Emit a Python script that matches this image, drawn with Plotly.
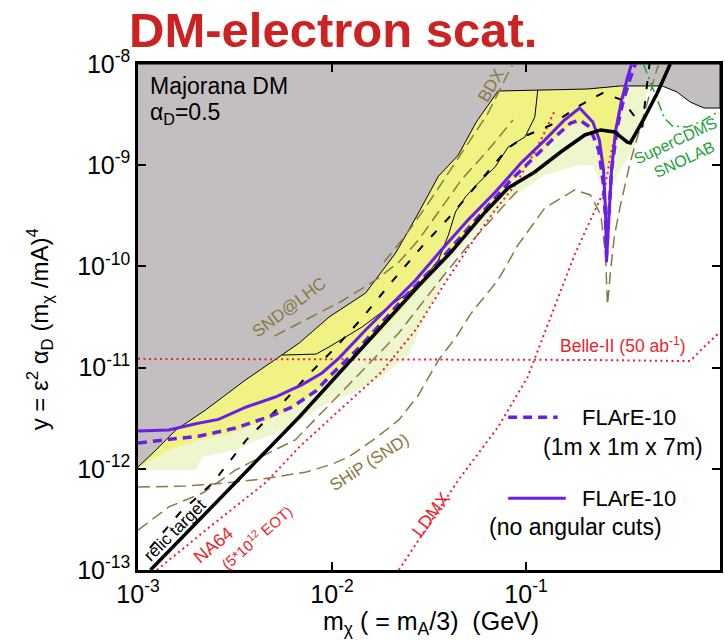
import plotly.graph_objects as go

# ---- axis setup -------------------------------------------------------------
X_RANGE = (1e-3, 1.0)
Y_RANGE = (1e-13, 1e-8)
X_TICKS = [1e-3, 1e-2, 1e-1, 1.0]
X_TICKTEXT = ["10<sup>-3</sup>", "10<sup>-2</sup>", "10<sup>-1</sup>", "1"]
Y_TICKS = [1e-13, 1e-12, 1e-11, 1e-10, 1e-9, 1e-8]
Y_TICKTEXT = ["10<sup>-13</sup>", "10<sup>-12</sup>", "10<sup>-11</sup>",
              "10<sup>-10</sup>", "10<sup>-9</sup>", "10<sup>-8</sup>"]

# ---- excluded region (grey), lower boundary -----------------------------------
EXCL_X = [1.0e-3, 1.236e-3, 1.567e-3, 2.23e-3, 3.58e-3, 5.10e-3, 6.78e-3, 9.66e-3,
          1.49e-2, 2.13e-2, 2.79e-2, 3.54e-2, 4.48e-2, 5.54e-2, 7.18e-2, 0.208,
          0.307, 0.504, 0.601, 0.702, 0.828, 1.0]
EXCL_Y = [1.04e-12, 1.53e-12, 2.42e-12, 3.81e-12, 7.54e-12, 1.19e-11, 1.75e-11, 3.16e-11,
          5.46e-11, 1.36e-10, 3.37e-10, 7.8e-10, 1.26e-9, 2.67e-9, 5.41e-9, 5.66e-9,
          6.07e-9, 6.07e-9, 5.28e-9, 4.21e-9, 3.67e-9, 3.67e-9]

# ---- yellow bands (lower edges) ---------------------------------------------
BAND_X = [1.0e-3, 1.442e-3, 2.08e-3, 3.184e-3, 4.70e-3, 6.24e-3, 8.28e-3, 1.125e-2,
          1.375e-2, 1.80e-2, 2.48e-2, 3.54e-2, 5.05e-2, 8.37e-2, 0.111, 0.141, 0.170,
          0.196, 0.221, 0.243, 0.257, 0.273, 0.290, 0.307, 0.318]
BAND_Y = [1.02e-12, 1.53e-12, 1.93e-12, 2.31e-12, 3.04e-12, 3.90e-12, 5.74e-12, 9.68e-12,
          1.43e-11, 2.25e-11, 4.45e-11, 9.86e-11, 2.29e-10, 6.83e-10, 1.15e-9, 1.82e-9,
          2.49e-9, 2.55e-9, 2.13e-9, 1.41e-9, 8.97e-10, 1.13e-9, 1.99e-9, 3.51e-9, 5.79e-9]

PALE_X = [1.0e-3, 1.983e-3, 2.155e-3, 3.184e-3, 3.58e-3, 5.10e-3, 6.24e-3, 1.0e-2,
          1.22e-2, 1.80e-2, 2.48e-2, 2.96e-2, 3.54e-2, 4.12e-2, 6.17e-2, 8.37e-2, 0.125,
          0.185, 0.221, 0.243, 0.260, 0.273, 0.297, 0.354, 0.398, 0.422]
PALE_Y = [9.73e-13, 9.73e-13, 1.31e-12, 1.53e-12, 1.72e-12, 2.26e-12, 2.71e-12, 4.78e-12,
          5.36e-12, 8.07e-12, 1.33e-11, 2.95e-11, 5.84e-11, 1.21e-10, 2.75e-10, 4.74e-10,
          8.00e-10, 1.00e-9, 1.00e-9, 6.37e-10, 2.29e-10, 5.08e-10, 8.0e-10, 1.41e-9,
          2.80e-9, 5.79e-9]

# thin black contour inside the yellow band
EDGE_X = [5.54e-3, 8.28e-3, 9.66e-3, 1.43e-2, 1.96e-2, 2.79e-2, 3.54e-2, 3.98e-2,
          4.33e-2, 4.87e-2, 5.68e-2, 6.93e-2, 8.09e-2, 9.88e-2, 0.111, 0.115]
EDGE_Y = [1.33e-11, 1.36e-11, 1.60e-11, 2.52e-11, 3.97e-11, 6.55e-11, 1.16e-10, 2.04e-10,
          3.45e-10, 4.85e-10, 6.67e-10, 9.60e-10, 1.51e-9, 1.90e-9, 2.99e-9, 5.53e-9]

# ---- relic target -------------------------------------------------------------
RELIC_X = [1.16e-3, 5.81e-3, 6.78e-3, 1.0e-2, 1.49e-2, 2.03e-2, 2.79e-2, 4.12e-2,
           6.17e-2, 8.09e-2, 0.111, 0.151, 0.201, 0.243, 0.286, 0.333, 0.345, 0.407,
           0.475, 0.554]
RELIC_Y = [1.0e-13, 2.42e-12, 3.25e-12, 7.38e-12, 1.71e-11, 3.31e-11, 6.40e-11, 1.39e-10,
           3.45e-10, 5.96e-10, 8.57e-10, 1.35e-9, 1.99e-9, 2.23e-9, 2.13e-9, 1.69e-9,
           1.66e-9, 2.92e-9, 5.16e-9, 1.0e-8]

# ---- FLArE-10 sensitivities ------------------------------------------------------
FLARE_NOCUT_X = [1.0e-3, 1.442e-3, 2.01e-3, 2.60e-3, 3.62e-3, 5.10e-3, 7.02e-3, 8.89e-3,
                 1.086e-2, 1.49e-2, 2.03e-2, 2.70e-2, 3.66e-2, 5.05e-2, 6.93e-2, 9.42e-2,
                 0.125, 0.158, 0.189, 0.221, 0.239, 0.251, 0.257, 0.260, 0.267, 0.276,
                 0.290, 0.311, 0.333, 0.350]
FLARE_NOCUT_Y = [2.37e-12, 2.42e-12, 2.80e-12, 3.08e-12, 4.08e-12, 5.12e-12, 6.80e-12,
                 8.85e-12, 1.24e-11, 2.35e-11, 4.25e-11, 7.34e-11, 1.45e-10, 2.90e-10,
                 5.40e-10, 1.05e-9, 1.77e-9, 2.80e-9, 3.67e-9, 2.67e-9, 1.77e-9, 8.97e-10,
                 3.60e-10, 1.10e-10, 2.87e-10, 8.97e-10, 2.23e-9, 4.41e-9, 7.27e-9, 1.0e-8]

FLARE_7M_X = [1.0e-3, 1.442e-3, 2.08e-3, 3.184e-3, 4.70e-3, 6.24e-3, 8.28e-3, 1.0e-2,
              1.375e-2, 1.80e-2, 2.48e-2, 3.54e-2, 5.05e-2, 8.37e-2, 0.111, 0.141, 0.170,
              0.189, 0.213, 0.237, 0.251, 0.257, 0.260, 0.267, 0.276, 0.297, 0.318,
              0.345, 0.366]
FLARE_7M_Y = [1.80e-12, 1.93e-12, 2.11e-12, 2.53e-12, 3.25e-12, 4.08e-12, 5.90e-12,
              8.65e-12, 1.56e-11, 2.76e-11, 5.46e-11, 1.10e-10, 2.39e-10, 7.14e-10,
              1.21e-9, 1.90e-9, 2.61e-9, 2.80e-9, 2.38e-9, 1.41e-9, 6.37e-10, 2.87e-10,
              1.30e-10, 3.2e-10, 8.97e-10, 2.49e-9, 4.41e-9, 7.27e-9, 1.0e-8]

# ---- black dashed curve -------------------------------------------------------------
BLACK_DASH_X = [1.152e-3, 1.64e-3, 2.427e-3, 3.62e-3, 5.16e-3, 7.36e-3, 1.05e-2, 1.43e-2,
                2.03e-2, 2.90e-2, 4.12e-2, 6.38e-2, 8.09e-2, 0.102, 0.134, 0.191, 0.248,
                0.314, 0.375, 0.398, 0.412, 0.433]
BLACK_DASH_Y = [1.65e-13, 3.66e-13, 7.24e-13, 1.93e-12, 3.81e-12, 8.07e-12, 1.60e-11,
                3.09e-11, 7.01e-11, 1.56e-10, 3.22e-10, 8.57e-10, 1.48e-9, 1.99e-9,
                2.49e-9, 3.93e-9, 5.16e-9, 4.41e-9, 2.80e-9, 2.38e-9, 4.41e-9, 1.0e-8]

# ---- electron / positron beam experiments (red dotted) ---------------------------------
NA64_X = [1.251e-3, 2.34e-3, 4.59e-3, 6.78e-3, 1.125e-2, 1.80e-2, 2.70e-2, 3.85e-2,
          5.16e-2, 6.93e-2, 8.79e-2, 0.111, 0.130, 0.141]
NA64_Y = [1.0e-13, 2.66e-13, 7.41e-13, 1.64e-12, 3.99e-12, 9.05e-12, 2.36e-11, 7.01e-11,
          1.63e-10, 3.60e-10, 6.37e-10, 1.35e-9, 2.49e-9, 3.51e-9]

LDMX_X = [2.21e-2, 2.79e-2, 4.48e-2, 7.18e-2, 0.102, 0.134, 0.178, 0.221, 0.254, 0.273,
          0.297, 0.314, 0.326]
LDMX_Y = [1.0e-13, 1.98e-13, 7.74e-13, 2.59e-12, 8.07e-12, 3.16e-11, 1.30e-10, 3.22e-10,
          5.69e-10, 1.26e-9, 2.67e-9, 4.41e-9, 5.79e-9]

BELLE_X = [1.0e-3, 0.2, 0.702, 0.828, 1.0]
BELLE_Y = [1.22e-11, 1.19e-11, 1.16e-11, 1.60e-11, 2.25e-11]

# ---- proton beam-dump / forward experiments (brown dashed) ----------------------------
SHIP_X = [1.0e-3, 1.762e-3, 2.827e-3, 4.37e-3, 7.36e-3, 1.0e-2, 1.22e-2, 1.68e-2, 2.21e-2,
          2.79e-2, 3.54e-2, 4.33e-2, 5.23e-2, 7.18e-2, 9.10e-2, 0.125, 0.178, 0.215, 0.243,
          0.257, 0.263, 0.273, 0.286, 0.307, 0.345, 0.407, 0.475, 0.487]
SHIP_Y = [6.61e-13, 6.76e-13, 7.24e-13, 7.92e-13, 9.29e-13, 1.11e-12, 1.31e-12, 2.01e-12,
          3.04e-12, 5.36e-12, 1.19e-11, 1.96e-11, 3.47e-11, 7.34e-11, 1.63e-10, 3.78e-10,
          5.69e-10, 5.08e-10, 3.22e-10, 1.30e-10, 4.15e-11, 9.21e-11, 2.04e-10, 4.05e-10,
          1.08e-9, 3.36e-9, 9.12e-9, 1.0e-8]

DUMP_X = [1.0e-3, 1.442e-3, 2.155e-3, 3.184e-3, 4.70e-3, 6.46e-3, 1.0e-2, 1.49e-2, 2.21e-2,
          3.54e-2, 5.05e-2, 7.18e-2, 9.10e-2]
DUMP_Y = [2.48e-13, 4.20e-13, 5.77e-13, 9.73e-13, 1.43e-12, 1.93e-12, 4.57e-12, 1.01e-11,
          2.20e-11, 7.01e-11, 1.63e-10, 3.45e-10, 5.69e-10]

SND_X = [5.05e-3, 7.62e-3, 1.125e-2, 1.68e-2, 2.21e-2, 2.79e-2, 3.54e-2, 4.64e-2, 6.38e-2,
         8.57e-2]
SND_Y = [2.05e-11, 3.09e-11, 4.55e-11, 7.34e-11, 1.10e-10, 1.82e-10, 3.45e-10, 7.14e-10,
         1.41e-9, 2.80e-9]

BDX_X = [1.85e-2, 2.34e-2, 3.14e-2, 3.98e-2, 5.05e-2, 6.38e-2, 8.09e-2, 8.57e-2]
BDX_Y = [1.10e-10, 1.91e-10, 4.23e-10, 8.38e-10, 1.66e-9, 3.28e-9, 8.15e-9, 1.0e-8]

# ---- direct detection -------------------------------------------------------------------
CDMS_X = [0.403, 0.433, 0.475, 0.517, 0.568, 0.678, 0.809, 0.989]
CDMS_Y = [1.0e-8, 6.95e-9, 4.41e-9, 2.92e-9, 2.44e-9, 2.38e-9, 2.73e-9, 3.43e-9]

# ---- colours ---------------------------------------------------------------------------
GREY = "#c3bec0"
YELLOW = "#f0f383"
PALE = "#eef6ce"
PURPLE = "#6b1fe6"
BROWN = "#8b7842"
RED = "#ee1f2a"
GREEN = "#1fa23a"
FONT = "Liberation Sans, Arial, sans-serif"

fig = go.Figure()


def region(xs, ys, color, line=None):
    """Closed polygon from a lower edge up to the top of the frame."""
    top = Y_RANGE[1]
    fig.add_trace(go.Scatter(
        x=list(xs) + [xs[-1], xs[0]], y=list(ys) + [top, top],
        mode="lines", fill="toself", fillcolor=color,
        line=line or dict(width=0, color=color),
        hoverinfo="skip", showlegend=False))


def curve(xs, ys, color, width, dash="solid"):
    fig.add_trace(go.Scatter(
        x=xs, y=ys, mode="lines", line=dict(color=color, width=width, dash=dash),
        hoverinfo="skip", showlegend=False))


region(PALE_X, PALE_Y, PALE)
region(BAND_X, BAND_Y, YELLOW)
region(EXCL_X, EXCL_Y, GREY, line=dict(color="black", width=1))
curve(EDGE_X, EDGE_Y, "black", 1)

brown_dash = "12px,6px"
curve(SHIP_X, SHIP_Y, BROWN, 1.5, brown_dash)
curve(DUMP_X, DUMP_Y, BROWN, 1.5, brown_dash)
curve(SND_X, SND_Y, BROWN, 1.5, brown_dash)
curve(BDX_X, BDX_Y, BROWN, 1.5, brown_dash)

red_dot = "2px,3.5px"
curve(NA64_X, NA64_Y, RED, 2, red_dot)
curve(LDMX_X, LDMX_Y, RED, 2, red_dot)
curve(BELLE_X, BELLE_Y, RED, 2, red_dot)

curve(CDMS_X, CDMS_Y, GREEN, 1.5, "10px,4px,2px,4px")
curve(BLACK_DASH_X, BLACK_DASH_Y, "black", 2, "8px,12px")
curve(FLARE_7M_X, FLARE_7M_Y, PURPLE, 3.5, "9px,6px")
curve(FLARE_NOCUT_X, FLARE_NOCUT_Y, PURPLE, 3)
curve(RELIC_X, RELIC_Y, "black", 3.5)

# ---- text ----------------------------------------------------------------------------------
notes = []


def note(text, x, y, size, color="black", angle=0, xanchor="center", yanchor="middle",
         bold=False):
    notes.append(dict(
        text=f"<b>{text}</b>" if bold else text, x=x, y=y, xref="paper", yref="paper",
        showarrow=False, textangle=angle, xanchor=xanchor, yanchor=yanchor,
        font=dict(family=FONT, size=size, color=color)))


note("DM-electron scat.", 0.335, 1.1245, 49, color="#cc2222", bold=True, yanchor="top")
note("Majorana DM", 0.017, 0.957, 23, xanchor="left")
note("α<sub>D</sub>=0.5", 0.017, 0.903, 23, xanchor="left")
note("relic target", 0.063, 0.079, 17, angle=-45)
note("NA64", 0.130, 0.049, 18, color=RED, angle=-40)
note("(5*10<sup>12</sup> EOT)", 0.203, 0.067, 15, color=RED, angle=-41)
note("LDMX", 0.503, 0.109, 18, color=RED, angle=-53)
note("Belle-II (50 ab<sup>-1</sup>)", 0.834, 0.445, 17.5, color=RED)
note("SHiP (SND)", 0.397, 0.213, 17, color=BROWN, angle=-33)
note("SND@LHC", 0.260, 0.518, 17, color=BROWN, angle=-37)
note("BDX", 0.607, 0.957, 17, color=BROWN, angle=-60)
note("SuperCDMS<br>SNOLAB", 0.932, 0.830, 16, color=GREEN, angle=-25)

note("FLArE-10", 0.759, 0.302, 22, xanchor="left")
note("(1m x 1m x 7m)", 0.974, 0.243, 23, xanchor="right")
note("FLArE-10", 0.759, 0.142, 22, xanchor="left")
note("(no angular cuts)", 0.752, 0.085, 23)

note("m<sub>χ</sub> ( = m<sub>A</sub>/3)  (GeV)", 0.503, -0.104, 25)
note("y = ε<sup>2</sup> α<sub>D</sub> (m<sub>χ</sub> /mA)<sup>4</sup>", -0.168, 0.476, 24,
     angle=-90)

shapes = [
    dict(type="line", xref="paper", yref="paper", x0=0.636, x1=0.721, y0=0.302, y1=0.302,
         line=dict(color=PURPLE, width=3.5, dash="9px,6px")),
    dict(type="line", xref="paper", yref="paper", x0=0.636, x1=0.735, y0=0.142, y1=0.142,
         line=dict(color=PURPLE, width=3)),
]

axis_common = dict(
    type="log", showgrid=False, zeroline=False, showline=True, linecolor="black",
    linewidth=2.5, mirror="ticks", ticks="inside", ticklen=8, tickwidth=1.5,
    tickcolor="black", tickfont=dict(family=FONT, size=25, color="black"))

fig.update_layout(
    width=726, height=641,
    margin=dict(l=138, r=3, t=64, b=71),
    paper_bgcolor="white", plot_bgcolor="white",
    xaxis=dict(range=[-3, 0], tickvals=X_TICKS, ticktext=X_TICKTEXT, **axis_common),
    yaxis=dict(range=[-13, -8], tickvals=Y_TICKS, ticktext=Y_TICKTEXT, **axis_common),
    annotations=notes, shapes=shapes, showlegend=False)

fig.write_html("out.html")
